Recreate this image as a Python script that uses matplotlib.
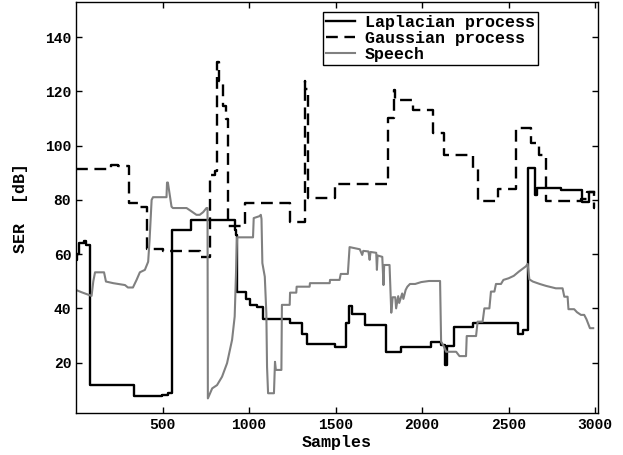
import matplotlib
matplotlib.use("Agg")
import matplotlib.pyplot as plt

# ---- data (step breakpoints: value holds from x until next x) ----
lap_x = [0, 8, 15, 45, 55, 79, 335, 498, 530, 556, 662, 921, 927, 931, 985, 1004,
         1044, 1079, 1235, 1304, 1333, 1494, 1558, 1577, 1596, 1671, 1793, 1879,
         2052, 2110, 2135, 2142, 2187, 2293, 2552, 2581, 2610, 2654, 2665, 2803,
         2924, 2966, 2995]
lap_y = [58, 60, 64, 65, 63.5, 11.7, 7.7, 8.2, 8.7, 68.9, 72.6, 69, 67, 46.2, 43.4,
         41.3, 40.4, 36.1, 34.7, 30.4, 26.9, 25.9, 34.5, 40.9, 37.8, 33.9, 24.0, 25.9,
         27.5, 26.5, 19.1, 26.3, 33.0, 34.5, 30.6, 31.9, 91.7, 81.9, 84.3, 83.7,
         79.4, 83.1, 83.1]

gau_x = [0, 200, 240, 306, 370, 411, 500, 719, 777, 805, 815, 826, 848, 868, 876,
         975, 1235, 1321, 1326, 1338, 1344, 1494, 1802, 1835, 1841, 1946, 2062,
         2129, 2293, 2321, 2437, 2543, 2629, 2677, 2716, 2918, 2956, 2993, 3000]
gau_y = [91.3, 92.9, 92.5, 78.8, 77.5, 62.0, 61.3, 59.1, 89.2, 90.5, 131.0, 124.0,
         114.5, 109.8, 70.2, 79.0, 72.0, 123.7, 121.0, 80.6, 80.6, 85.7, 110.2, 120.6,
         116.9, 113.2, 104.6, 96.6, 91.7, 79.6, 84.1, 106.7, 100.9, 96.4, 79.6, 80.3,
         83.1, 77.0, 77.0]

sp_x = [0, 30, 90, 100, 110, 162, 173, 215, 283, 300, 329, 350, 369, 398, 417, 425,
        437, 445, 523, 526, 531, 552, 560, 639, 660, 696, 715, 735, 754, 760, 762,
        787, 815, 844, 873, 902, 917, 931, 1023, 1027, 1060, 1068, 1072, 1077, 1091,
        1100, 1104, 1110, 1144, 1150, 1155, 1187, 1190, 1235, 1237, 1273, 1275, 1350,
        1352, 1466, 1468, 1523, 1530, 1571, 1581, 1640, 1654, 1660, 1690, 1697, 1702,
        1735, 1739, 1743, 1770, 1777, 1781, 1812, 1822, 1830, 1845, 1850, 1862, 1868,
        1885, 1892, 1905, 1915, 1930, 1960, 1995, 2040, 2104, 2110, 2125, 2139, 2197,
        2216, 2254, 2258, 2312, 2321, 2350, 2360, 2389, 2398, 2418, 2427, 2456, 2470,
        2500, 2530, 2560, 2585, 2600, 2610, 2620, 2640, 2680, 2716, 2773, 2812, 2822,
        2841, 2846, 2879, 2895, 2918, 2937, 2950, 2970, 2989]
sp_y = [46.8, 46.0, 44.6, 50.0, 53.3, 53.3, 49.9, 49.3, 48.6, 47.7, 47.7, 50.5, 53.3,
        54.2, 57.2, 65.0, 80.0, 81.0, 81.0, 86.4, 86.4, 77.5, 77.0, 77.0, 76.1, 74.5,
        74.5, 75.5, 77.0, 77.0, 6.8, 10.5, 11.7, 14.8, 19.8, 28.4, 37.0, 66.2, 66.2,
        73.3, 74.0, 74.5, 73.0, 56.7, 51.7, 38.2, 18.5, 8.7, 8.7, 20.3, 17.3, 17.3,
        41.3, 41.3, 45.8, 45.8, 48.0, 48.0, 49.3, 49.3, 50.5, 50.5, 52.7, 52.7, 62.6,
        61.8, 59.7, 61.2, 61.0, 57.9, 60.8, 60.5, 54.2, 59.5, 59.0, 48.6, 56.0, 56.0,
        38.4, 44.1, 44.1, 40.0, 44.5, 42.0, 45.5, 43.5, 46.8, 48.0, 49.0, 49.0, 49.7,
        50.1, 50.1, 27.7, 26.1, 24.0, 24.0, 22.4, 22.4, 29.8, 29.8, 35.1, 35.1, 40.0,
        40.0, 46.2, 46.2, 49.0, 49.0, 50.5, 51.1, 52.0, 53.6, 54.8, 55.5, 56.4, 50.7,
        49.9, 49.0, 48.3, 47.4, 47.4, 44.3, 44.3, 39.7, 39.7, 38.6, 37.6, 37.6, 36.0,
        32.7, 32.7]

x_ticks = [500, 1000, 1500, 2000, 2500, 3000]
y_ticks = [20, 40, 60, 80, 100, 120, 140]

# ---- plotting ----
mono = "Liberation Mono"
fig = plt.figure(figsize=(6.23, 4.55), dpi=100)
ax = fig.add_axes([0.122, 0.0916, 0.8374, 0.9047])

ax.plot(lap_x, lap_y, drawstyle="steps-post", color="black", lw=1.7,
        label="Laplacian process")
ax.plot(gau_x, gau_y, drawstyle="steps-post", color="black", lw=1.7,
        dashes=(5, 2.8), label="Gaussian process")
ax.plot(sp_x, sp_y, color="0.5", lw=1.5, label="Speech")

ax.set_xlim(0, 3015)
ax.set_ylim(1.3, 153.1)
ax.set_xticks(x_ticks)
ax.set_yticks(y_ticks)
ax.tick_params(direction="in", top=True, right=True, length=4, width=1,
               labeltop=False, labelright=False)
for lab in ax.get_xticklabels() + ax.get_yticklabels():
    lab.set_fontfamily(mono)
    lab.set_fontweight("bold")
    lab.set_fontsize(10.5)
for s in ax.spines.values():
    s.set_linewidth(1.0)

ax.set_xlabel("Samples", fontfamily=mono, fontweight="bold", fontsize=12, labelpad=2)
ax.set_ylabel("SER  [dB]", fontfamily=mono, fontweight="bold", fontsize=12, labelpad=12)

leg = ax.legend(loc="upper right", bbox_to_anchor=(0.8856, 0.975),
                prop={"family": mono, "weight": "bold", "size": 12},
                fancybox=False, edgecolor="black", framealpha=1,
                borderpad=0.2, labelspacing=0.05, handlelength=1.7,
                handletextpad=0.6, borderaxespad=0)
leg.get_frame().set_linewidth(1.0)

fig.savefig("out.png", dpi=100)
